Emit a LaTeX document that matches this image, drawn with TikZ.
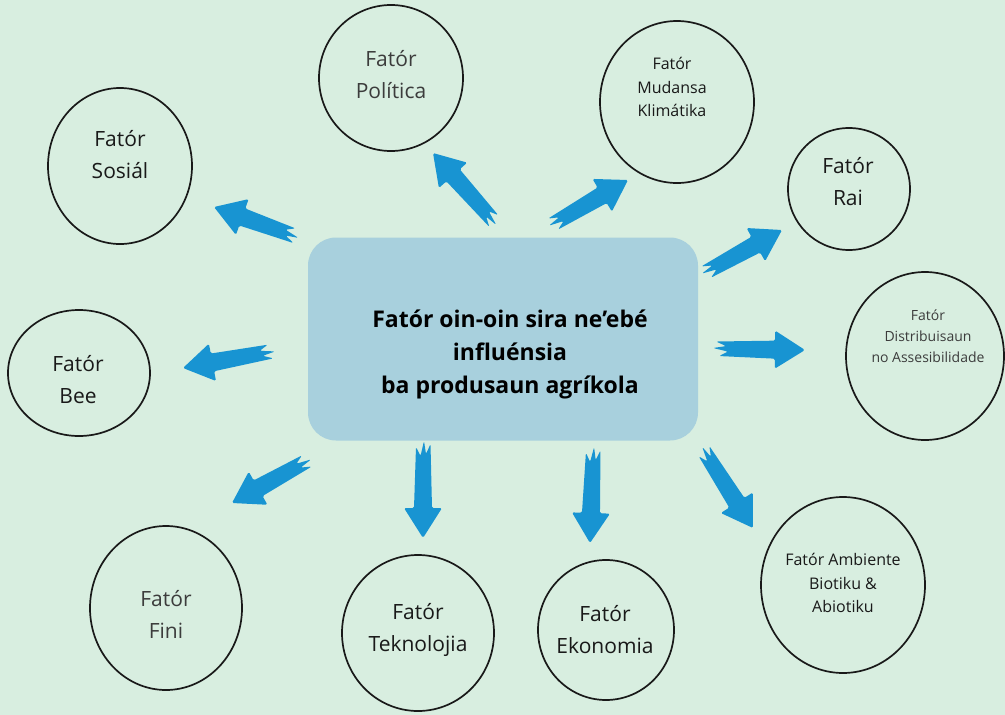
\documentclass[tikz,border=0pt]{standalone}
\usepackage{fontspec}
\setmainfont{Open Sans}
\usetikzlibrary{calc}
\usetikzlibrary{shapes.geometric}
\definecolor{bgmint}{HTML}{D8EEE0}
\definecolor{boxblue}{HTML}{A8D0DD}
\definecolor{arrowblue}{HTML}{1894D2}
\definecolor{inkgray}{HTML}{3C3C3C}

\tikzset{
  fcircle/.style={ellipse, draw=black!90, line width=1.7pt, inner sep=0pt},
  fsize/.style 2 args={minimum width=#1pt, minimum height=#2pt},
  ftext/.style={align=center, text=black!90, font=\fontsize{21}{32}\selectfont},
  fmid/.style={align=center, text=black!90, font=\fontsize{16}{23.5}\selectfont},
  fsmall/.style={align=center, text=inkgray, font=\fontsize{14}{21}\selectfont},
  brush/.style={fill=arrowblue, rounded corners=1.5pt},
}

% brush arrow from tail #1 to tip #2
\newcommand{\brusharrow}[2]{%
  \coordinate (bp) at ($(#2)!30pt!(#1)$);
  \coordinate (tb) at ($(#1)!10pt!(#2)$);
  \coordinate (tc) at ($(#1)!-3pt!(#2)$);
  \coordinate (td) at ($(#1)!12pt!(#2)$);
  \coordinate (te) at ($(#1)!3pt!(#2)$);
  \fill[brush] (#2)
    -- ($(bp)!19pt!90:(#2)$)
    -- ($(bp)!9pt!90:(#2)$)
    -- ($(#1)!7.5pt!90:(#2)$)
    -- ($(tb)!3pt!90:(#2)$)
    -- ($(tc)!1pt!90:(#2)$)
    -- ($(td)!2.5pt!-90:(#2)$)
    -- ($(te)!7pt!-90:(#2)$)
    -- ($(bp)!9pt!-90:(#2)$)
    -- ($(bp)!19pt!-90:(#2)$)
    -- cycle;
}

\begin{document}
\begin{tikzpicture}[x=1pt, y=-1pt]
	\fill[bgmint] (0,0) rectangle (1005,715);
	\useasboundingbox (0,0) rectangle (1005,715);
\par
% central box
	\node[fill=boxblue, rounded corners=28pt, minimum width=390pt, minimum height=203pt] (box) at (503,339) {};
	\node[align=center, font=\bfseries\fontsize{23}{33}\selectfont] (box-t) at (510,354)
		{Fatór oin-oin sira ne’ebé\\influénsia\\ba produsaun agríkola};
\par
% factors
	\node[fcircle, fsize={144}{156}] (sosial) at (120,166) {};
	\node[ftext] (sosial-t) at (120,155) {Fatór\\Sosiál};
	\node[fcircle, fsize={144}{146}] (politika) at (391,78) {};
	\node[ftext, text=inkgray] (politika-t) at (391,75) {Fatór\\Política};
	\node[fcircle, fsize={154}{162}] (klima) at (677,102) {};
	\node[fmid] (klima-t) at (672,87) {Fatór\\Mudansa\\Klimátika};
	\node[fcircle, fsize={122}{122}] (rai) at (849,189) {};
	\node[ftext] (rai-t) at (848,182) {Fatór\\Rai};
	\node[fcircle, fsize={158}{168}] (distrib) at (925,356) {};
	\node[fsmall] (distrib-t) at (928,336) {Fatór\\Distribuisaun\\no Assesibilidade};
	\node[fcircle, fsize={164}{176}] (ambiente) at (843,585) {};
	\node[fmid] (ambiente-t) at (843,583) {Fatór Ambiente\\Biotiku \&\\Abiotiku};
	\node[fcircle, fsize={136}{140}] (ekonomia) at (606,630) {};
	\node[ftext] (ekonomia-t) at (605,630) {Fatór\\Ekonomia};
	\node[fcircle, fsize={152}{156}] (teknolojia) at (418,633) {};
	\node[ftext] (teknolojia-t) at (418,630) {Fatór\\Teknolojia};
	\node[fcircle, fsize={152}{164}] (fini) at (166,608) {};
	\node[ftext, text=inkgray] (fini-t) at (166,614) {Fatór\\Fini};
	\node[fcircle, fsize={142}{126}] (bee) at (79,373) {};
	\node[ftext] (bee-t) at (78,380) {Fatór\\Bee};
\par
% arrow ends
	\coordinate (sosial-s) at (296,236);     \coordinate (sosial-e) at (214,207);
	\coordinate (politika-s) at (495,222);   \coordinate (politika-e) at (433,153);
	\coordinate (klima-s) at (552,225);      \coordinate (klima-e) at (628,180);
	\coordinate (rai-s) at (705,273);        \coordinate (rai-e) at (782,230);
	\coordinate (distrib-s) at (716,349);    \coordinate (distrib-e) at (805,350);
	\coordinate (ambiente-s) at (703,450);   \coordinate (ambiente-e) at (753,528);
	\coordinate (teknolojia-s) at (423,444); \coordinate (teknolojia-e) at (423,538);
	\coordinate (ekonomia-s) at (593,450);   \coordinate (ekonomia-e) at (590,543);
	\coordinate (fini-s) at (308,460);       \coordinate (fini-e) at (232,503);
	\coordinate (bee-s) at (272,351);        \coordinate (bee-e) at (183,368);
\par
	\foreach \n in {sosial,politika,klima,rai,distrib,ambiente,teknolojia,ekonomia,fini,bee}
		\brusharrow{\n-s}{\n-e};
\end{tikzpicture}
\end{document}
